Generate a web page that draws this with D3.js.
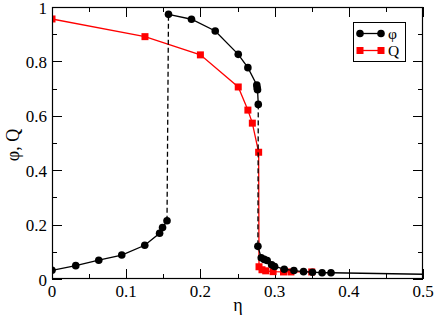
<!DOCTYPE html>
<html>
<head>
<meta charset="utf-8">
<script src="https://cdnjs.cloudflare.com/ajax/libs/d3/7.8.5/d3.min.js"></script>
<style>
body { margin: 0; background: #fff; }
svg text { font-family: "Liberation Serif", "Times New Roman", Times, serif; fill: #000; }
</style>
</head>
<body>
<svg id="chart" width="436" height="318"></svg>
<script>
// values
var phiLow = [[0, 0.032], [0.032, 0.049], [0.063, 0.069], [0.094, 0.088], [0.125, 0.124],
              [0.145, 0.168], [0.149, 0.189], [0.155, 0.214]];
var phiJumpUp = [[0.155, 0.214], [0.157, 0.973]];
var phiHigh = [[0.157, 0.973], [0.188, 0.955], [0.220, 0.912], [0.251, 0.826], [0.264, 0.777],
               [0.276, 0.713], [0.2765, 0.703], [0.277, 0.696], [0.278, 0.642]];
var phiJumpDown = [[0.278, 0.642], [0.2775, 0.120]];
var phiTail = [[0.2775, 0.120], [0.282, 0.078], [0.286, 0.072], [0.290, 0.068], [0.296, 0.052],
               [0.300, 0.046], [0.313, 0.036], [0.326, 0.031], [0.339, 0.027], [0.351, 0.025],
               [0.364, 0.023], [0.376, 0.023], [0.6, 0.013]];
var qData = [[0, 0.956], [0.1253, 0.891], [0.2, 0.824], [0.251, 0.706], [0.264, 0.621],
             [0.270, 0.573], [0.2785, 0.466], [0.279, 0.045], [0.283, 0.034], [0.288, 0.030],
             [0.298, 0.027], [0.312, 0.026], [0.322, 0.026], [0.35, 0.026]];
var xTicks = [0, 0.1, 0.2, 0.3, 0.4, 0.5];
var xMinor = [0.05, 0.15, 0.25, 0.35, 0.45];
var yTicks = [0, 0.2, 0.4, 0.6, 0.8, 1];
var yMinor = [0.1, 0.3, 0.5, 0.7, 0.9];
var legendItems = ["φ", "Q"];

// plot box (window.top is reserved, so no "top" here)
var pLeft = 52, pRight = 423, pTop = 7, pBottom = 279;

var svg = d3.select("#chart");
var x = d3.scaleLinear().domain([0, 0.5]).range([pLeft, pRight]);
var y = d3.scaleLinear().domain([0, 1]).range([pBottom, pTop]);

svg.append("defs").append("clipPath").attr("id", "plotclip")
   .append("rect").attr("x", pLeft).attr("y", pTop)
   .attr("width", pRight - pLeft).attr("height", pBottom - pTop);

// ticks, all pointing inward
var bigTick = 10, smallTick = 5;
var axisG = svg.append("g").attr("stroke", "#000").attr("stroke-width", 1);

function xTickLines(vals, len) {
  vals.forEach(function(v) {
    var px = Math.round(x(v)) + 0.5;
    axisG.append("line").attr("x1", px).attr("x2", px).attr("y1", pBottom).attr("y2", pBottom - len);
    axisG.append("line").attr("x1", px).attr("x2", px).attr("y1", pTop).attr("y2", pTop + len);
  });
}
function yTickLines(vals, len) {
  vals.forEach(function(v) {
    var py = Math.round(y(v)) + 0.5;
    axisG.append("line").attr("x1", pLeft).attr("x2", pLeft + len).attr("y1", py).attr("y2", py);
    axisG.append("line").attr("x1", pRight).attr("x2", pRight - len).attr("y1", py).attr("y2", py);
  });
}
xTickLines(xTicks, bigTick);
xTickLines(xMinor, smallTick);
yTickLines(yTicks, bigTick);
yTickLines(yMinor, smallTick);

// tick labels
svg.append("g").selectAll("text").data(xTicks).enter().append("text")
   .attr("x", function(d) { return x(d); })
   .attr("y", 297)
   .attr("text-anchor", "middle")
   .attr("font-size", 17)
   .text(function(d) { return d3.format("")(d); });

svg.append("g").selectAll("text").data(yTicks).enter().append("text")
   .attr("x", 47)
   .attr("y", function(d) { return y(d) + 6.5; })
   .attr("text-anchor", "end")
   .attr("font-size", 17)
   .text(function(d) { return d3.format("")(d); });

// axis titles
svg.append("text").attr("x", 238).attr("y", 311).attr("text-anchor", "middle")
   .attr("font-size", 18).text("η");
svg.append("text").attr("transform", "translate(19,145) rotate(-90)")
   .attr("text-anchor", "middle").attr("font-size", 18).text("φ, Q");

var line = d3.line().x(function(d) { return x(d[0]); }).y(function(d) { return y(d[1]); });
var plot = svg.append("g").attr("clip-path", "url(#plotclip)");

// Q series (red, below)
plot.append("path").datum(qData).attr("d", line)
    .attr("fill", "none").attr("stroke", "#ff0000").attr("stroke-width", 1.3);
plot.selectAll("rect.q").data(qData).enter().append("rect").attr("class", "q")
    .attr("x", function(d) { return x(d[0]) - 3.5; })
    .attr("y", function(d) { return y(d[1]) - 3.5; })
    .attr("width", 7).attr("height", 7)
    .attr("fill", "#ff0000");

// phi series (black)
[phiLow, phiHigh, phiTail].forEach(function(seg) {
  plot.append("path").datum(seg).attr("d", line)
      .attr("fill", "none").attr("stroke", "#000").attr("stroke-width", 1.3);
});
[phiJumpUp, phiJumpDown].forEach(function(seg) {
  plot.append("path").datum(seg).attr("d", line)
      .attr("fill", "none").attr("stroke", "#000").attr("stroke-width", 1.3)
      .attr("stroke-dasharray", "5,3");
});
plot.selectAll("circle.phi").data(phiLow.concat(phiHigh, phiTail)).enter()
    .append("circle").attr("class", "phi")
    .attr("cx", function(d) { return x(d[0]); })
    .attr("cy", function(d) { return y(d[1]); })
    .attr("r", 3.8)
    .attr("fill", "#000");

// frame
svg.append("rect").attr("x", pLeft + 0.5).attr("y", pTop + 0.5)
   .attr("width", pRight - pLeft - 1).attr("height", pBottom - pTop - 1)
   .attr("fill", "none").attr("stroke", "#000").attr("stroke-width", 1.2);

// legend
var lg = svg.append("g");
lg.append("rect").attr("x", 353.5).attr("y", 22.5).attr("width", 52).attr("height", 39)
  .attr("fill", "#fff").attr("stroke", "#000").attr("stroke-width", 1);
legendItems.forEach(function(name, i) {
  var ly = 33.5 + i * 17;
  var col = i === 0 ? "#000" : "#ff0000";
  lg.append("line").attr("x1", 360).attr("x2", 381).attr("y1", ly).attr("y2", ly)
    .attr("stroke", col).attr("stroke-width", 1.3);
  [360, 381].forEach(function(px) {
    if (i === 0) {
      lg.append("circle").attr("cx", px).attr("cy", ly).attr("r", 3.8).attr("fill", col);
    } else {
      lg.append("rect").attr("x", px - 3.5).attr("y", ly - 3.5).attr("width", 7).attr("height", 7).attr("fill", col);
    }
  });
  lg.append("text").attr("x", 388).attr("y", ly + 5).attr("font-size", 15.5).text(name);
});
</script>
</body>
</html>
